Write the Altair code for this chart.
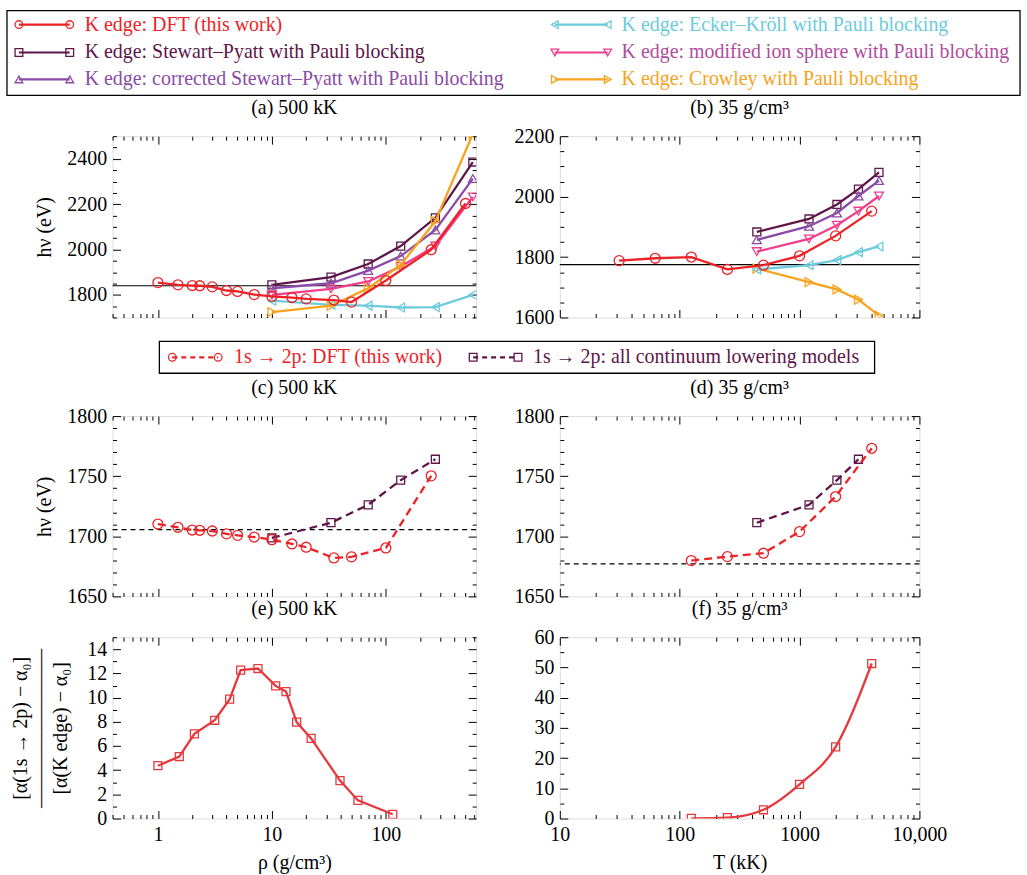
import json
import math
import altair as alt
import pandas as pd

FONT = "Liberation Serif"

# ---------------- colours / styles ----------------
RED = "#ec2227"
SP_C = "#5e1649"
CSP_C = "#8a4ca6"
EK_C = "#6ccbdc"
MIS_C = "#f03f8d"
MIS_TXT = "#b24c9c"
CR_C = "#f7a31c"
RATIO_C = "#e5383d"

# ---------------- data ----------------
# (a) K edge vs density at 500 kK
rho_dft_a = [1, 1.5, 2, 2.33, 3, 4, 5, 7, 10, 15, 20, 35, 50, 100, 250, 500]
kedge_dft_a = [1854, 1844, 1841, 1840, 1835, 1819, 1815, 1801, 1793, 1788, 1782, 1777, 1768, 1863, 1999, 2203]
rho_models_a = [10, 33, 70, 135, 272, 580]
sp_a = [1844, 1878, 1936, 2015, 2140, 2386]
csp_a = [1829, 1851, 1907, 1971, 2086, 2313]
ek_a = [1774, 1756, 1752, 1744, 1746, 1800]
mis_a = [1800, 1826, 1859, 1925, 2015, 2232]
crowley_a = [1724, 1752, 1829, 1932, 2125, 2510]
ref_a = [1840]

# (b) K edge vs temperature at 35 g/cm3
T_dft_b = [31.25, 62.5, 125, 250, 500, 1000, 2000, 4000]
kedge_dft_b = [1788, 1796, 1800, 1759, 1773, 1804, 1870, 1952]
T_models_b = [440, 1200, 2050, 3100, 4600]
sp_b = [1883, 1926, 1974, 2025, 2080]
csp_b = [1857, 1902, 1946, 2002, 2053]
ek_b = [1759, 1773, 1790, 1816, 1835]
mis_b = [1818, 1860, 1905, 1952, 2002]
crowley_b = [1762, 1717, 1693, 1659, 1606]
ref_b = [1775]

# (c) 1s->2p vs density at 500 kK
rho_dft_c = [1, 1.5, 2, 2.33, 3, 4, 5, 7, 10, 15, 20, 35, 50, 100, 250]
line_dft_c = [1710.2, 1707.5, 1705.2, 1705.0, 1704.4, 1702.0, 1700.8, 1699.4, 1697.2,
              1693.6, 1690.9, 1682.0, 1682.9, 1690.3, 1750.3]
rho_models_c = [10, 33, 70, 135, 272]
line_models_c = [1698.6, 1711.3, 1726.2, 1746.7, 1764.1]
ref_c = [1705.5]

# (d) 1s->2p vs temperature at 35 g/cm3
T_dft_d = [125, 250, 500, 1000, 2000, 4000]
line_dft_d = [1679.8, 1683.1, 1685.9, 1703.9, 1733.1, 1773.2]
T_models_d = [440, 1200, 2050, 3100]
line_models_d = [1711.3, 1726.2, 1746.7, 1764.1]
ref_d = [1677]

# (e) ratio vs density
rho_e = [1, 1.54, 2.09, 3.15, 4.26, 5.32, 7.55, 10.8, 13.3, 16.5, 22.1, 39.6, 56.9, 115]
ratio_e = [4.37, 5.13, 7.01, 8.13, 9.88, 12.28, 12.41, 10.97, 10.5, 7.97, 6.63, 3.14, 1.5, 0.35]

# (f) ratio vs temperature
T_f = [125, 250, 500, 1000, 2000, 4000]
ratio_f = [0.05, 0.3, 2.9, 11.3, 23.7, 51.3]

# legends
legend1_labels = ["K edge: DFT (this work)",
                  "K edge: Stewart–Pyatt with Pauli blocking",
                  "K edge: corrected Stewart–Pyatt with Pauli blocking",
                  "K edge: Ecker–Kröll with Pauli blocking",
                  "K edge: modified ion sphere with Pauli blocking",
                  "K edge: Crowley with Pauli blocking"]
legend1_colors = [RED, SP_C, CSP_C, EK_C, MIS_C, CR_C]
legend1_textcolors = [RED, SP_C, CSP_C, EK_C, MIS_TXT, CR_C]
legend1_shapes = ["circle", "square", "triangle-up", "triangle-left", "triangle-down", "triangle-right"]

legend2_labels = ["1s → 2p: DFT (this work)", "1s → 2p: all continuum lowering models"]
legend2_colors = [RED, SP_C]
legend2_shapes = ["circle", "square"]

SIZES = {"circle": 100, "square": 64, "triangle-up": 80, "triangle-down": 80,
         "triangle-left": 80, "triangle-right": 80}

# ---------------- helpers ----------------
TMAJ, TMIN = 8, 4


def lin_ticks(lo, hi, step):
    n = int(round((hi - lo) / step))
    return [round(lo + i * step, 6) for i in range(n + 1)]


def log_ticks(lo, hi):
    vals = []
    d = 10 ** math.floor(math.log10(lo))
    while d <= hi * 1.0000001:
        for m in range(1, 10):
            v = round(m * d, 6)
            if lo - 1e-9 <= v <= hi + 1e-9:
                vals.append(v)
        d = round(d * 10, 6)
    return vals


def make_axis(orient, values, majors, labelmap=None, title=None, title_pad=10, title_lh=None):
    test = "indexof(%s, datum.value) >= 0" % json.dumps(majors)
    kw = dict(orient=orient, values=values, domain=False, grid=False, offset=-TMAJ,
              tickSize=TMAJ, tickColor="black", tickWidth=1,
              tickDash={"condition": {"test": test, "value": [40, 1]},
                        "value": [0, TMAJ - TMIN, TMIN, 40]},
              labelOverlap=False, labelFlush=False, title=title)
    if labelmap:
        expr = ""
        for v, s in labelmap:
            expr += "datum.value == %s ? '%s' : " % (repr(v), s)
        expr += "''"
        kw.update(labels=True, labelExpr=expr, labelPadding=6, labelFont=FONT,
                  labelFontSize=20, labelColor="black")
    else:
        kw["labels"] = False
    if title is not None:
        kw.update(titlePadding=title_pad, titleFont=FONT, titleFontSize=20,
                  titleFontWeight="normal", titleColor="black")
        if title_lh:
            kw["titleLineHeight"] = title_lh
    return alt.Axis(**kw)


def series(xs, ys, x, y, color, shape, dash=None, interp=None, lw=2.3):
    df = pd.DataFrame({"x": x, "y": y})
    enc = dict(x=alt.X("x:Q", scale=xs, axis=None), y=alt.Y("y:Q", scale=ys, axis=None))
    lk = dict(color=color, strokeWidth=lw, clip=True)
    if dash:
        lk["strokeDash"] = dash
    if interp:
        lk["interpolate"] = interp
    line = alt.Chart(df).mark_line(**lk).encode(**enc)
    pts = alt.Chart(df).mark_point(shape=shape, color=color, filled=False, size=SIZES[shape],
                                   strokeWidth=1.3, opacity=1, clip=True).encode(**enc)
    return [line, pts]


def refline(xs, ys, yval, dash=None):
    df = pd.DataFrame({"y": yval})
    kw = dict(color="black", strokeWidth=1.2)
    if dash:
        kw["strokeDash"] = dash
    return alt.Chart(df).mark_rule(**kw).encode(y=alt.Y("y:Q", scale=ys, axis=None))


def panel(title, w, h, xdom, xmaj, ydom, ystep, ymaj, layers_fn,
          xlabelmap=None, xtitle=None, ytitle=None, ytitle_pad=10, ytitle_lh=None):
    xs = alt.Scale(type="log", domain=xdom, nice=False)
    ys = alt.Scale(domain=ydom, nice=False, zero=False)
    xvals = log_ticks(xdom[0], xdom[1])
    yvals = lin_ticks(ydom[0], ydom[1], ystep)
    ylabelmap = [(v, str(v)) for v in ymaj]
    corner = pd.DataFrame({"x": xdom, "y": ydom})
    ax_main = alt.Chart(corner).mark_point(opacity=0).encode(
        x=alt.X("x:Q", scale=xs,
                axis=make_axis("bottom", xvals, xmaj, xlabelmap, xtitle, title_pad=8)),
        y=alt.Y("y:Q", scale=ys,
                axis=make_axis("left", yvals, ymaj, ylabelmap, ytitle, title_pad=ytitle_pad,
                               title_lh=ytitle_lh)),
    )
    ax_mirror = alt.Chart(corner).mark_point(opacity=0).encode(
        x=alt.X("x:Q", scale=xs, axis=make_axis("top", xvals, xmaj)),
        y=alt.Y("y:Q", scale=ys, axis=make_axis("right", yvals, ymaj)),
    )
    layers = [ax_main, ax_mirror] + layers_fn(xs, ys)
    return alt.layer(*layers).resolve_axis(x="independent", y="independent").properties(
        width=w, height=h,
        title=alt.TitleParams(text=title, font=FONT, fontSize=20, fontWeight="normal",
                              color="black", anchor="middle", offset=8),
    )


RHO_DOM = [0.4, 620]
T_DOM = [10, 10000]
RHO_MAJ = [1, 10, 100]
T_MAJ = [10, 100, 1000, 10000]


def layers_a(xs, ys):
    L = [refline(xs, ys, ref_a)]
    L += series(xs, ys, rho_models_a, ek_a, EK_C, "triangle-left")
    L += series(xs, ys, rho_models_a, sp_a, SP_C, "square")
    L += series(xs, ys, rho_models_a, csp_a, CSP_C, "triangle-up")
    L += series(xs, ys, rho_models_a, mis_a, MIS_C, "triangle-down")
    L += series(xs, ys, rho_models_a, crowley_a, CR_C, "triangle-right")
    L += series(xs, ys, rho_dft_a, kedge_dft_a, RED, "circle")
    return L


def layers_b(xs, ys):
    L = [refline(xs, ys, ref_b)]
    L += series(xs, ys, T_models_b, crowley_b, CR_C, "triangle-right")
    L += series(xs, ys, T_models_b, ek_b, EK_C, "triangle-left")
    L += series(xs, ys, T_models_b, sp_b, SP_C, "square")
    L += series(xs, ys, T_models_b, csp_b, CSP_C, "triangle-up")
    L += series(xs, ys, T_models_b, mis_b, MIS_C, "triangle-down")
    L += series(xs, ys, T_dft_b, kedge_dft_b, RED, "circle")
    return L


DASH = [8, 5]


def layers_c(xs, ys):
    L = [refline(xs, ys, ref_c, dash=[5, 4])]
    L += series(xs, ys, rho_models_c, line_models_c, SP_C, "square", dash=DASH)
    L += series(xs, ys, rho_dft_c, line_dft_c, RED, "circle", dash=DASH)
    return L


def layers_d(xs, ys):
    L = [refline(xs, ys, ref_d, dash=[5, 4])]
    L += series(xs, ys, T_models_d, line_models_d, SP_C, "square", dash=DASH)
    L += series(xs, ys, T_dft_d, line_dft_d, RED, "circle", dash=DASH)
    return L


def layers_e(xs, ys):
    return series(xs, ys, rho_e, ratio_e, RATIO_C, "square")


def layers_f(xs, ys):
    return series(xs, ys, T_f, ratio_f, RATIO_C, "square", interp="monotone")


WL, WR = 365, 361
H1, H2, H3 = 182, 181, 182

pa = panel("(a) 500 kK", WL, H1, RHO_DOM, RHO_MAJ, [1700, 2500], 50, [1800, 2000, 2200, 2400],
           layers_a, ytitle="hν (eV)", ytitle_pad=12)
pb = panel("(b) 35 g/cm³", WR, H1, T_DOM, T_MAJ, [1600, 2200], 50, [1600, 1800, 2000, 2200],
           layers_b)
pc = panel("(c) 500 kK", WL, H2, RHO_DOM, RHO_MAJ, [1650, 1800], 10, [1650, 1700, 1750, 1800],
           layers_c, ytitle="hν (eV)", ytitle_pad=12)
pd_ = panel("(d) 35 g/cm³", WR, H2, T_DOM, T_MAJ, [1650, 1800], 10, [1650, 1700, 1750, 1800],
            layers_d)
pe = panel("(e) 500 kK", WL, H3, RHO_DOM, RHO_MAJ, [0, 15], 1, [0, 2, 4, 6, 8, 10, 12, 14],
           layers_e, xlabelmap=[(1, "1"), (10, "10"), (100, "100")],
           xtitle="ρ (g/cm³)",
           ytitle=["[α(1s → 2p) − α₀]", "————————", "[α(K edge) − α₀]"],
           ytitle_pad=16, ytitle_lh=20)
pf = panel("(f) 35 g/cm³", WR, H3, T_DOM, T_MAJ, [0, 60], 5, [0, 10, 20, 30, 40, 50, 60],
           layers_f, xlabelmap=[(10, "10"), (100, "100"), (1000, "1000"), (10000, "10,000")],
           xtitle="T (kK)")

# ---------------- legends ----------------
LEG1_H = 85
LEG2_H = 17


def legend_chart(labels, colors, tcolors, shapes, x0s, x1s, txs, tys, box, width, height, dash=None):
    rows = pd.DataFrame({"label": labels, "color": colors, "tc": tcolors, "shape": shapes,
                         "x0": x0s, "x1": x1s, "tx": txs, "ty": tys})
    pts = pd.concat([rows.assign(px=rows["x0"]), rows.assign(px=rows["x1"])], ignore_index=True)
    boxdf = pd.DataFrame({"k": [0]})
    rect = alt.Chart(boxdf).mark_rect(fill="white", stroke="black", strokeWidth=1.3).encode(
        x=alt.value(box[0]), x2=alt.value(box[1]), y=alt.value(box[2]), y2=alt.value(box[3]))
    rk = dict(strokeWidth=2.2)
    if dash:
        rk["strokeDash"] = dash
    rules = alt.Chart(rows).mark_rule(**rk).encode(
        x=alt.X("x0:Q", scale=None, axis=None), x2="x1:Q",
        y=alt.Y("ty:Q", scale=None, axis=None),
        color=alt.Color("color:N", scale=None))
    marks = alt.Chart(pts).mark_point(filled=False, size=60, strokeWidth=1.3, opacity=1).encode(
        x=alt.X("px:Q", scale=None, axis=None), y=alt.Y("ty:Q", scale=None, axis=None),
        color=alt.Color("color:N", scale=None), shape=alt.Shape("shape:N", scale=None))
    texts = alt.Chart(rows).mark_text(align="left", baseline="middle", font=FONT, fontSize=20).encode(
        x=alt.X("tx:Q", scale=None, axis=None), y=alt.Y("ty:Q", scale=None, axis=None),
        text="label:N", color=alt.Color("tc:N", scale=None))
    return alt.layer(rect, rules, marks, texts).properties(
        width=width, height=height, view=alt.ViewBackground(stroke="transparent"))


def blank(width, height):
    df = pd.DataFrame({"k": [0]})
    return alt.Chart(df).mark_point(opacity=0).encode(
        x=alt.value(0), y=alt.value(0)).properties(
        width=width, height=height, view=alt.ViewBackground(stroke="transparent"))


# legend 1: two columns of three rows
col_of = [0, 0, 0, 1, 1, 1]
row_of = [0, 1, 2, 0, 1, 2]
row_y = [14, 42, 69]
col_x0 = [-94, 444]
col_x1 = [-43, 497]
col_tx = [-28, 511]
leg1 = legend_chart(legend1_labels, legend1_colors, legend1_textcolors, legend1_shapes,
                    [col_x0[c] for c in col_of], [col_x1[c] for c in col_of],
                    [col_tx[c] for c in col_of], [row_y[r] for r in row_of],
                    box=(-106, 911, 0, LEG1_H), width=WL, height=LEG1_H)

leg2 = legend_chart(legend2_labels, legend2_colors, legend2_colors, legend2_shapes,
                    [60, 362], [106, 407], [122, 422], [-1, -1],
                    box=(47, 765, -17, 15), width=WL, height=LEG2_H, dash=[5, 4])

chart = alt.concat(
    leg1, blank(WR, LEG1_H),
    pa, pb,
    leg2, blank(WR, LEG2_H),
    pc, pd_,
    pe, pf,
    columns=2, spacing={"row": 41, "column": 84}, bounds="flush",
).configure_view(
    stroke="black", strokeWidth=1.2
).configure(font=FONT).configure_axis(labelFont=FONT, titleFont=FONT)

chart.save("out.html", embed_options={"renderer": "svg", "actions": False})
